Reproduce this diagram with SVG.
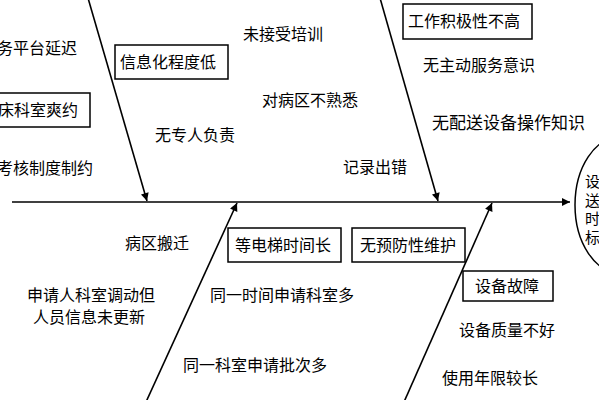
<svg xmlns="http://www.w3.org/2000/svg" width="599" height="400" viewBox="0 0 599 400">
<style>
text{font-family:"Noto Sans CJK SC","Noto Sans",sans-serif;font-size:16px;fill:#000}
.box{fill:#fff;stroke:#000;stroke-width:1.5}
.ln{stroke:#000;stroke-width:1.6;fill:none}
.el{font-size:15px}
</style>
<defs>
<marker id="ah" viewBox="0 0 10 10" refX="10" refY="5" markerWidth="10" markerHeight="8" markerUnits="userSpaceOnUse" orient="auto">
<path d="M0,0 L10,5 L0,10 z" fill="#000"/>
</marker>
</defs>
<rect width="599" height="400" fill="#fff"/>
<g id="connectors">
<line class="ln" x1="12" y1="202" x2="570" y2="202" marker-end="url(#ah)"/>
<line class="ln" x1="88" y1="-2" x2="147" y2="201" marker-end="url(#ah)"/>
<line class="ln" x1="380" y1="-2" x2="438" y2="201" marker-end="url(#ah)"/>
<line class="ln" x1="146" y1="402" x2="237" y2="203" marker-end="url(#ah)"/>
<line class="ln" x1="404" y1="402" x2="492" y2="203" marker-end="url(#ah)"/>
</g>
<g id="n-result">
<ellipse class="box" cx="620" cy="205" rx="45" ry="68"/>
<text class="el" x="585" y="187">设<tspan x="585" dy="18.5">送</tspan><tspan x="585" dy="18.5">时</tspan><tspan x="585" dy="18.5">标</tspan></text>
</g>
<g id="n-platform"><text x="-3" y="54">务平台延迟</text></g>
<g id="n-clinic"><rect class="box" x="-5" y="93" width="95" height="34"/><text x="-2" y="116">床科室爽约</text></g>
<g id="n-assess"><text x="-3" y="174">考核制度制约</text></g>
<g id="n-info"><rect class="box" x="115" y="45" width="113" height="34"/><text x="120" y="68">信息化程度低</text></g>
<g id="n-noone"><text x="155" y="141">无专人负责</text></g>
<g id="n-train"><text x="243" y="40">未接受培训</text></g>
<g id="n-ward"><text x="262" y="106">对病区不熟悉</text></g>
<g id="n-record"><text x="343" y="173">记录出错</text></g>
<g id="n-motiv"><rect class="box" x="403" y="4" width="129" height="35"/><text x="408" y="27">工作积极性不高</text></g>
<g id="n-service"><text x="423" y="71">无主动服务意识</text></g>
<g id="n-know"><text x="432" y="129" style="font-size:17px">无配送设备操作知识</text></g>
<g id="n-move"><text x="125" y="249">病区搬迁</text></g>
<g id="n-transfer"><text x="27" y="301">申请人科室调动但</text><text x="33" y="323">人员信息未更新</text></g>
<g id="n-elev"><rect class="box" x="228" y="228" width="113" height="34"/><text x="235" y="251">等电梯时间长</text></g>
<g id="n-maint"><rect class="box" x="352" y="228" width="113" height="34"/><text x="360" y="251">无预防性维护</text></g>
<g id="n-same"><text x="210" y="301">同一时间申请科室多</text></g>
<g id="n-batch"><text x="183" y="371">同一科室申请批次多</text></g>
<g id="n-fault"><rect class="box" x="463" y="271" width="90" height="30"/><text x="475" y="292">设备故障</text></g>
<g id="n-quality"><text x="459" y="336">设备质量不好</text></g>
<g id="n-age"><text x="442" y="384">使用年限较长</text></g>
</svg>
